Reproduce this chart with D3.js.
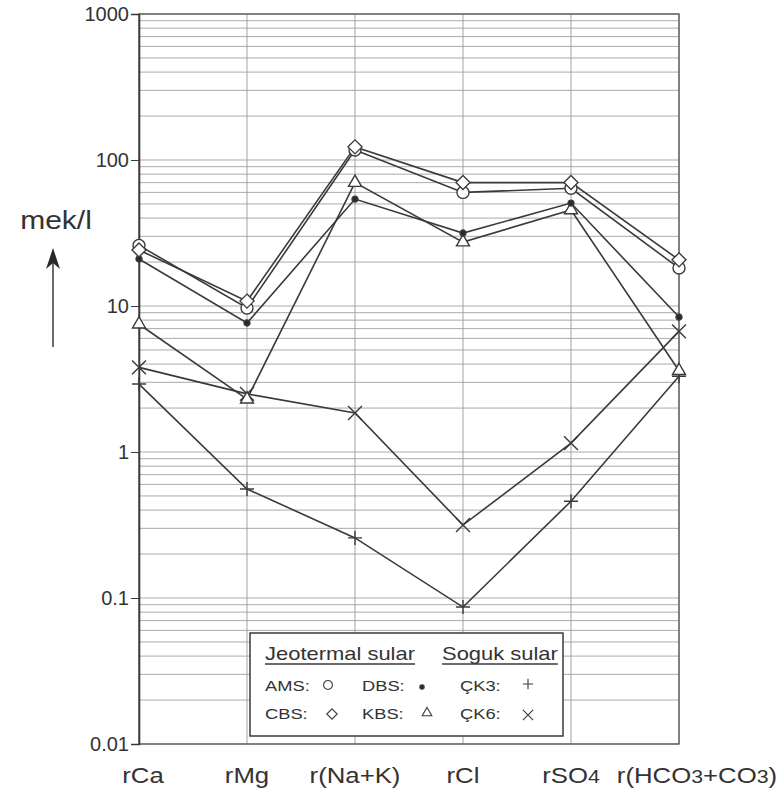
<!DOCTYPE html>
<html>
<head>
<meta charset="utf-8">
<script src="https://cdn.jsdelivr.net/npm/d3@7"></script>
<style>
  body { margin: 0; background: #fff; }
  text { font-family: "Liberation Sans", Arial, sans-serif; fill: #333; }
</style>
</head>
<body>
<div id="chart"></div>
<script>
// <<< Data >>>
const categories = ["rCa", "rMg", "r(Na+K)", "rCl", "rSO4", "r(HCO3+CO3)"];
const yTickValues = [0.01, 0.1, 1, 10, 100, 1000];
const yTickLabels = ["0.01", "0.1", "1", "10", "100", "1000"];

// Jeotermal sular
const amsValues = [26, 9.7, 117, 60, 64, 18.2];
const cbsValues = [24.2, 10.8, 123, 70, 70, 20.7];
const dbsValues = [21, 7.65, 54, 31.6, 50.7, 8.4];
const kbsValues = [7.5, 2.3, 70, 27.4, 45.5, 3.6];
// Soguk sular
const ck3Values = [2.92, 0.558, 0.258, 0.0867, 0.46, 3.3];
const ck6Values = [3.8, 2.5, 1.85, 0.316, 1.15, 6.7];

const seriesNames = ["ÇK3", "ÇK6", "KBS", "DBS", "AMS", "CBS"];
const seriesValues = [ck3Values, ck6Values, kbsValues, dbsValues, amsValues, cbsValues];

// <<< Layout >>>
const W = 784, H = 795;
const plotLeft = 139, plotRight = 679, plotTop = 14, plotBottom = 744;
const ink = "#3a3a3a";

const svg = d3.select("#chart").append("svg")
  .attr("width", W).attr("height", H);

const x = d3.scalePoint().domain(categories).range([plotLeft, plotRight]);
const y = d3.scaleLog().domain([0.01, 1000]).range([plotBottom, plotTop]);

// marker look for each series
const markerFor = {
  "AMS": {type: d3.symbolCircle, size: 113, fill: "#fff"},
  "CBS": {type: d3.symbolDiamond2, size: 125, fill: "#fff"},
  "DBS": {type: d3.symbolCircle, size: 28, fill: "#2a2a2a"},
  "KBS": {type: d3.symbolTriangle2, size: 121, fill: "#fff"},
  "ÇK3": {type: d3.symbolPlus, size: 66, fill: "none"},
  "ÇK6": {type: d3.symbolTimes, size: 128, fill: "none"}
};

// horizontal text stretch, the scanned figure is wider than its type
function place(sel, px, py, sx) {
  return sel.attr("transform", "translate(" + px + "," + py + ") scale(" + sx + ",1)");
}

//<<< Grid >>>
const minorTicks = [];
yTickValues.slice(0, -1).forEach(function(d) {
  for (let k = 1; k < 10; k++) minorTicks.push(d * k);
});
minorTicks.push(1000);

svg.append("g").selectAll("line")
  .data(minorTicks)
  .enter().append("line")
  .attr("x1", plotLeft).attr("x2", plotRight)
  .attr("y1", d => y(d)).attr("y2", d => y(d))
  .attr("stroke", "#a0a0a0").attr("stroke-width", 0.9);

svg.append("g").selectAll("line")
  .data(categories)
  .enter().append("line")
  .attr("x1", d => x(d)).attr("x2", d => x(d))
  .attr("y1", plotTop).attr("y2", plotBottom)
  .attr("stroke", "#9a9a9a").attr("stroke-width", 0.9);

//<<< Frame and axes >>>
svg.append("rect")
  .attr("x", plotLeft).attr("y", plotTop)
  .attr("width", plotRight - plotLeft).attr("height", plotBottom - plotTop)
  .attr("fill", "none").attr("stroke", "#555").attr("stroke-width", 1.3);

const yAxis = svg.append("g")
  .attr("transform", "translate(" + plotLeft + ",0)")
  .call(d3.axisLeft(y).tickValues(yTickValues).tickSize(8).tickPadding(2)
    .tickFormat((d, i) => yTickLabels[i]));
yAxis.select(".domain").attr("stroke", ink).attr("stroke-width", 1.6);
yAxis.selectAll(".tick line").attr("stroke", ink).attr("stroke-width", 1);
yAxis.selectAll(".tick text")
  .style("font-family", '"Liberation Sans", Arial, sans-serif')
  .style("font-size", "20px").attr("fill", "#333");

// category labels under the axis, digits in formulas set a bit smaller
const labelParts = categories.map(function(c) {
  return c.split(/(\d)/).filter(s => s.length);
});
svg.append("g").selectAll("text")
  .data(categories)
  .enter().append("text")
  .attr("text-anchor", "middle")
  .style("font-size", "23px")
  .each(function(d, i) {
    const shift = i === categories.length - 1 ? 18 : (i === 0 ? 4 : 0);
    place(d3.select(this), x(d) + shift, 783, 1.12);
    d3.select(this).selectAll("tspan")
      .data(labelParts[i])
      .enter().append("tspan")
      .style("font-size", s => /\d/.test(s) ? "19px" : null)
      .text(s => s);
  });

// y title with arrow
place(svg.append("text"), 56, 229, 1.2)
  .attr("text-anchor", "middle")
  .style("font-size", "25px")
  .text("mek/l");
svg.append("line")
  .attr("x1", 53).attr("x2", 53).attr("y1", 347).attr("y2", 260)
  .attr("stroke", ink).attr("stroke-width", 1.5);
svg.append("path")
  .attr("d", "M53,248 L60,269 L53,263 L46,269 Z")
  .attr("fill", "#2a2a2a");

//<<< Series >>>
const line = d3.line()
  .x((d, i) => x(categories[i]))
  .y(d => y(d));

svg.append("g").selectAll("path")
  .data(seriesValues)
  .enter().append("path")
  .attr("d", line)
  .attr("fill", "none")
  .attr("stroke", ink)
  .attr("stroke-width", 1.6);

seriesNames.forEach(function(name, s) {
  const m = markerFor[name];
  svg.append("g").selectAll("path")
    .data(seriesValues[s])
    .enter().append("path")
    .attr("transform", (d, i) => "translate(" + x(categories[i]) + "," + y(d) + ")")
    .attr("d", d3.symbol().type(m.type).size(m.size))
    .attr("fill", m.fill)
    .attr("stroke", ink)
    .attr("stroke-width", 1.4);
});

//<<< Legend >>>
const legend = svg.append("g");
legend.append("rect")
  .attr("x", 250).attr("y", 633).attr("width", 313).attr("height", 103)
  .attr("fill", "#fff").attr("stroke", ink).attr("stroke-width", 1.5);

const headers = [
  {text: "Jeotermal sular", x: 265},
  {text: "Soguk sular", x: 442}
];
headers.forEach(function(h) {
  const t = place(legend.append("text"), h.x, 660, 1.22)
    .style("font-size", "18px").text(h.text);
  const len = t.node().getComputedTextLength() * 1.22;
  legend.append("line")
    .attr("x1", h.x).attr("x2", h.x + len)
    .attr("y1", 664).attr("y2", 664)
    .attr("stroke", ink).attr("stroke-width", 1.6);
});

const legendItems = [
  {name: "AMS", tx: 265, ty: 691, mx: 328, my: 685},
  {name: "DBS", tx: 362, ty: 691, mx: 422, my: 687},
  {name: "ÇK3", tx: 460, ty: 691, mx: 528, my: 684},
  {name: "CBS", tx: 265, ty: 719, mx: 332, my: 714},
  {name: "KBS", tx: 362, ty: 719, mx: 427, my: 713},
  {name: "ÇK6", tx: 460, ty: 719, mx: 528, my: 715}
];
legendItems.forEach(function(it) {
  place(legend.append("text"), it.tx, it.ty, 1.22)
    .style("font-size", "15px").text(it.name + ":");
  const m = markerFor[it.name];
  legend.append("path")
    .attr("transform", "translate(" + it.mx + "," + it.my + ")")
    .attr("d", d3.symbol().type(m.type).size(m.size * 0.55))
    .attr("fill", m.fill)
    .attr("stroke", ink)
    .attr("stroke-width", 1.1);
});
</script>
</body>
</html>
